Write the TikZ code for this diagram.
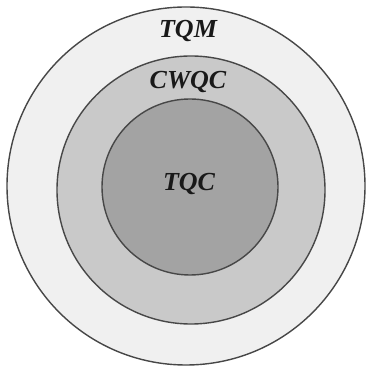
\documentclass[tikz,border=0pt]{standalone}
\usepackage{fontspec}
\setmainfont{Liberation Serif}
\usepackage{xcolor}
\usepackage{tikz}

\definecolor{ringline}{gray}{0.28}
\definecolor{outerfill}{gray}{0.94}
\definecolor{middlefill}{gray}{0.79}
\definecolor{innerfill}{gray}{0.64}

\begin{document}
\begin{tikzpicture}[
            x=1pt, y=1pt,
            ring/.style={circle, draw=ringline, line width=1.4pt, inner sep=0pt},
            tag/.style={anchor=base, font=\fontsize{26}{28}\selectfont\bfseries\itshape, text=black!90}
        ]
        \useasboundingbox (0,0) rectangle (370,369);
        \node[ring, fill=outerfill, minimum size=358pt] (tqmring) at (186,183) {};
        \node[ring, fill=middlefill, minimum size=268pt] (cwqcring) at (191,179) {};
        \node[ring, fill=innerfill, minimum size=176pt] (tqcring) at (190,182) {};

        \node[tag] (tqm) at (188,331) {TQM};
        \node[tag] (cwqc) at (188,280) {CWQC};
        \node[tag] (tqc) at (189,178) {TQC};
    \end{tikzpicture}
\end{document}
